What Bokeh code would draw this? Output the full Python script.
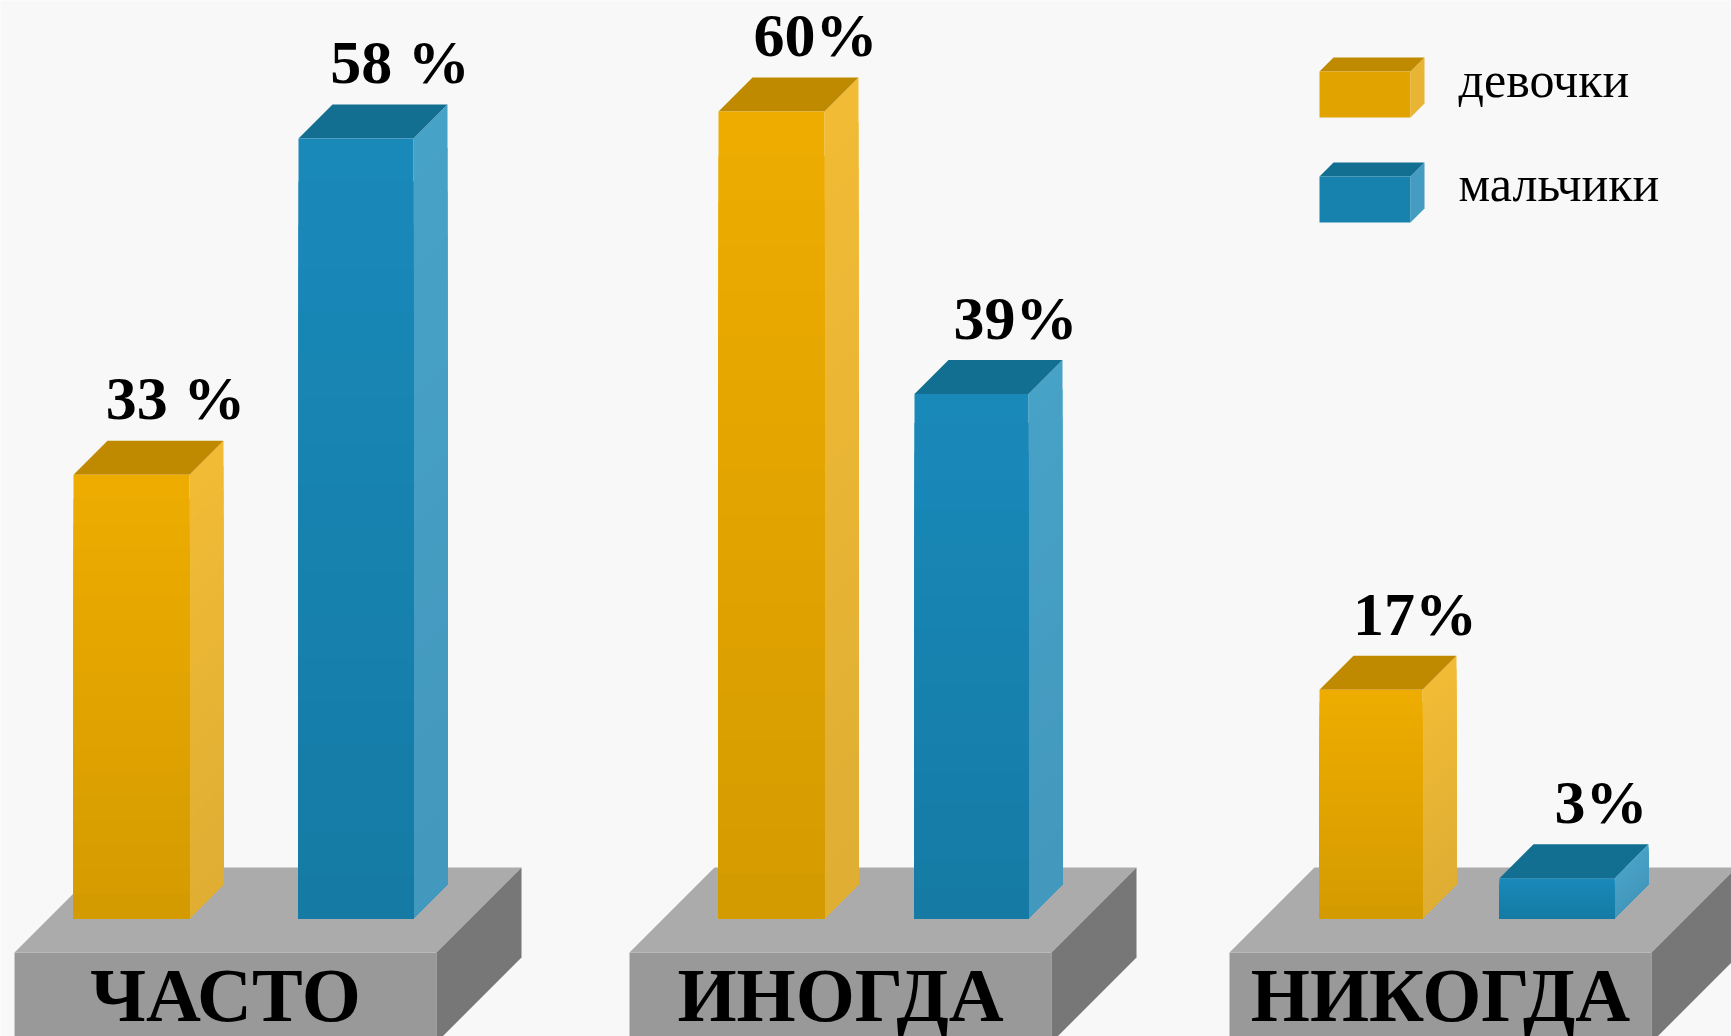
from bokeh.plotting import figure
from bokeh.models import Range1d
from bokeh.core.properties import value
from bokeh.embed import file_html
from bokeh.resources import INLINE

# ---------------- data ----------------
categories = ["ЧАСТО", "ИНОГДА", "НИКОГДА"]
girls = [33, 60, 17]
boys = [58, 39, 3]
girls_text = ["33 %", "60%", "17%"]
boys_text = ["58 %", "39%", "3%"]
series = ["девочки", "мальчики"]

# ---------------- layout (pixels) ----------------
W, H = 1731, 1036
BASE_PX = 918          # pixel row (from top) of the 0 % baseline
S = 13.45              # pixels per percent
BG = "#F8F8F8"
TXT_SHIFT = 0.36       # svg text baseline correction (fraction of font size)

PLAT_LEFT = [14, 629, 1229]
PLAT_W = 422
PLAT_TOP_PX = 952
PLAT_DEPTH = 85
PLAT_H = 90

GIRLS_LEFT = [73, 718, 1319]
GIRLS_W = [116, 106, 103]
BOYS_LEFT = [298, 914, 1499]
BOYS_W = [115, 114, 115]
DEPTH = 34             # px depth of bars
NGRAD = 18             # gradient steps

GIRLS_COL = dict(front=("#EEAC00", "#D39A00"), side=("#F1BB35", "#DEAD33"), top="#C08A00")
BOYS_COL = dict(front=("#1989B9", "#157AA4"), side=("#47A2C8", "#4397BC"), top="#136F91")


def yu(px):
    """pixel row from top -> percent units"""
    return (BASE_PX - px) / S


def mix(c1, c2, t):
    a = [int(c1[i:i + 2], 16) for i in (1, 3, 5)]
    b = [int(c2[i:i + 2], 16) for i in (1, 3, 5)]
    return "#%02x%02x%02x" % tuple(round(x + (y - x) * t) for x, y in zip(a, b))


DP = DEPTH / S

p = figure(width=W, height=H, output_backend="svg", toolbar_location=None,
           x_range=Range1d(0, W), y_range=Range1d(yu(H), yu(0)),
           x_axis_type=None, y_axis_type=None, min_border=0)
p.grid.visible = False
p.outline_line_color = None
p.background_fill_color = BG
p.border_fill_color = BG

# ---------------- platforms ----------------
fx, fy, tx, ty, sx, sy = [], [], [], [], [], []
for L in PLAT_LEFT:
    R = L + PLAT_W
    t0, t1 = yu(PLAT_TOP_PX), yu(PLAT_TOP_PX - PLAT_DEPTH)
    b0, b1 = yu(PLAT_TOP_PX + PLAT_H), yu(PLAT_TOP_PX - PLAT_DEPTH + PLAT_H)
    fx.append([L, R, R, L]); fy.append([t0, t0, b0, b0])
    tx.append([L, R, R + PLAT_DEPTH, L + PLAT_DEPTH]); ty.append([t0, t0, t1, t1])
    sx.append([R, R + PLAT_DEPTH, R + PLAT_DEPTH, R]); sy.append([t0, t1, b1, b0])
p.patches(fx, fy, fill_color="#999999", line_color=None)
p.patches(tx, ty, fill_color="#ABABAB", line_color=None)
p.patches(sx, sy, fill_color="#777777", line_color=None)


# ---------------- 3D bars (vertical gradient per bar) ----------------
def draw_bars(lefts, widths, vals, col):
    rights = [l + w for l, w in zip(lefts, widths)]
    # side faces
    xs, ys, cs = [], [], []
    for r, v in zip(rights, vals):
        for k in range(NGRAD, 0, -1):
            h = v * k / NGRAD
            xs.append([r, r + DEPTH, r + DEPTH, r])
            ys.append([0, DP, h + DP, h])
            cs.append(mix(col["side"][1], col["side"][0], k / NGRAD))
    p.patches(xs, ys, fill_color=cs, line_color=None)
    # top faces
    p.patches([[l, r, r + DEPTH, l + DEPTH] for l, r in zip(lefts, rights)],
              [[v, v, v + DP, v + DP] for v in vals],
              fill_color=col["top"], line_color=None)
    # front faces
    ql, qr, qt, qc = [], [], [], []
    for l, r, v in zip(lefts, rights, vals):
        for k in range(NGRAD, 0, -1):
            ql.append(l); qr.append(r); qt.append(v * k / NGRAD)
            qc.append(mix(col["front"][1], col["front"][0], k / NGRAD))
    p.quad(left=ql, right=qr, bottom=0, top=qt, fill_color=qc, line_color=None)


draw_bars(GIRLS_LEFT, GIRLS_W, girls, GIRLS_COL)
draw_bars(BOYS_LEFT, BOYS_W, boys, BOYS_COL)

# ---------------- value labels ----------------
VFS = 62
lab_x = [l + w / 2 + 44 for l, w in zip(GIRLS_LEFT + BOYS_LEFT, GIRLS_W + BOYS_W)]
lab_y = [v + (DEPTH + 20 + TXT_SHIFT * VFS) / S for v in girls + boys]
p.text(x=lab_x, y=lab_y, text=girls_text + boys_text,
       text_font=value("Liberation Serif"), text_font_style="bold",
       text_font_size=f"{VFS}px", text_align="center", text_baseline="alphabetic",
       text_color="#000000")

# ---------------- category labels ----------------
CFS = 76
p.text(x=[L + PLAT_W / 2 for L in PLAT_LEFT], y=[yu(1022 - TXT_SHIFT * CFS)] * 3,
       text=categories,
       text_font=value("Liberation Serif"), text_font_style="bold",
       text_font_size=f"{CFS}px", text_align="center", text_baseline="alphabetic",
       text_color="#000000")

# ---------------- legend (3D boxes) ----------------
LEG_X = 1319
LEG_W = 91
LEG_D = 14
LEG_TOP = [71, 176]
LEG_H = 46
for top_px, col in zip(LEG_TOP, [GIRLS_COL, BOYS_COL]):
    l, r = LEG_X, LEG_X + LEG_W
    t, b = yu(top_px), yu(top_px + LEG_H)
    dd = LEG_D / S
    p.patch([r, r + LEG_D, r + LEG_D, r], [b, b + dd, t + dd, t],
            fill_color=mix(col["side"][0], col["side"][1], 0.5), line_color=None)
    p.patch([l, r, r + LEG_D, l + LEG_D], [t, t, t + dd, t + dd],
            fill_color=col["top"], line_color=None)
    p.quad(left=l, right=r, bottom=b, top=t,
           fill_color=mix(col["front"][0], col["front"][1], 0.5), line_color=None)

LFS = 50
p.text(x=[1458, 1458], y=[yu(97 - TXT_SHIFT * LFS), yu(201 - TXT_SHIFT * LFS)], text=series,
       text_font=value("Liberation Serif"), text_font_size=f"{LFS}px",
       text_align="left", text_baseline="alphabetic", text_color="#000000")

open("out.html", "w").write(file_html(p, INLINE))
